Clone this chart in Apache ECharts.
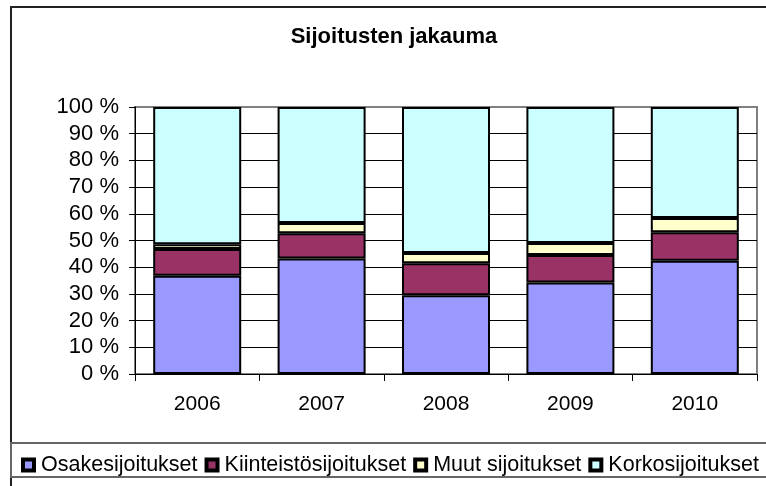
<!DOCTYPE html>
<html>
<head>
<meta charset="utf-8">
<script src="https://cdn.jsdelivr.net/npm/echarts@6/dist/echarts.min.js"></script>
<style>
html,body{margin:0;padding:0;background:#fff;}
#chart{width:766px;height:486px;}
</style>
</head>
<body>
<div id="chart"></div>
<script>
const title = 'Sijoitusten jakauma';
const categories = ['2006', '2007', '2008', '2009', '2010'];
const seriesNames = ['Osakesijoitukset', 'Kiinteistösijoitukset', 'Muut sijoitukset', 'Korkosijoitukset'];
const osake = [36.8, 43.3, 29.5, 34.3, 42.4];
const kiinteisto = [10.0, 9.4, 12.0, 10.3, 10.7];
const muut = [1.8, 3.9, 3.8, 4.5, 5.3];
const korko = [51.4, 43.4, 54.7, 50.9, 41.6];
const colors = ['#9999FF', '#993366', '#FFFFCC', '#CCFFFF'];
const seriesData = [osake, kiinteisto, muut, korko];

const FONT = '"Liberation Sans", Arial, sans-serif';
const chart = echarts.init(document.getElementById('chart'), null, {renderer: 'canvas'});

const splitColors = [];
for (let i = 0; i < 10; i++) splitColors.push('#000000');
splitColors.push('#808080');

const legendText = {fontFamily: FONT, fontSize: 21.5, color: '#000', padding: [0, 0, 0, 1]};

chart.setOption({
  animation: false,
  backgroundColor: '#ffffff',
  textStyle: {fontFamily: FONT},
  graphic: [
    {type: 'rect', shape: {x: 11, y: 7, width: 800, height: 520}, style: {fill: 'none', stroke: '#222', lineWidth: 2}, z: -10, silent: true},
    {type: 'rect', shape: {x: 11, y: 443, width: 800, height: 34}, style: {fill: 'none', stroke: '#666', lineWidth: 2}, z: -10, silent: true},
    {type: 'text', x: 394, y: 37, style: {text: title, font: 'bold 22px ' + FONT, fill: '#000', textAlign: 'center', textVerticalAlign: 'middle'}, z: 10, silent: true}
  ],
  grid: {left: 135, right: 9, top: 107, bottom: 112, show: true, borderColor: '#808080', borderWidth: 2, backgroundColor: '#ffffff'},
  legend: [
    {
      data: seriesNames.map(n => ({name: n, itemStyle: {color: '#000000'}})),
      left: 16,
      top: 449,
      width: 1200,
      itemWidth: 13,
      itemHeight: 13,
      itemGap: 7,
      icon: 'rect',
      selectedMode: false,
      z: 2,
      textStyle: legendText
    },
    {
      data: seriesNames,
      left: 18,
      top: 449,
      width: 1200,
      itemWidth: 9,
      itemHeight: 9,
      itemGap: 11,
      icon: 'rect',
      selectedMode: false,
      z: 3,
      textStyle: Object.assign({}, legendText, {color: 'rgba(0,0,0,0)'})
    }
  ],
  xAxis: {
    type: 'category',
    data: categories,
    axisLine: {lineStyle: {color: '#000', width: 1}},
    axisTick: {show: true, alignWithLabel: false, length: 7, lineStyle: {color: '#000'}},
    axisLabel: {color: '#000', fontSize: 21, fontFamily: FONT, margin: 20}
  },
  yAxis: {
    type: 'value',
    min: 0,
    max: 100,
    interval: 10,
    axisLine: {show: true, lineStyle: {color: '#000', width: 1}},
    axisTick: {show: true, length: 6, lineStyle: {color: '#000'}},
    axisLabel: {color: '#000', fontSize: 22, fontFamily: FONT, margin: 16, formatter: '{value} %'},
    splitLine: {show: true, lineStyle: {color: splitColors, width: 1}}
  },
  series: seriesNames.map((name, i) => ({
    name: name,
    type: 'bar',
    stack: 'total',
    barWidth: 88,
    data: seriesData[i],
    itemStyle: {color: colors[i], borderColor: '#000', borderWidth: 2}
  }))
});
</script>
</body>
</html>
